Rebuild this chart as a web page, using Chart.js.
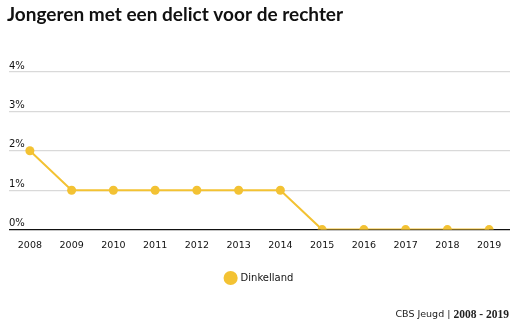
<!DOCTYPE html>
<html>
<head>
<meta charset="utf-8">
<script src="https://cdn.jsdelivr.net/npm/chart.js@4"></script>
<style>
  html, body { margin: 0; padding: 0; background: #fff; }
  #wrap { width: 517px; height: 329px; }
</style>
</head>
<body>
<div id="wrap"><canvas id="chart" width="517" height="329"></canvas></div>
<script>
'use strict';

var years = ['2008', '2009', '2010', '2011', '2012', '2013', '2014', '2015', '2016', '2017', '2018', '2019'];
var dinkelland = [2, 1, 1, 1, 1, 1, 1, 0, 0, 0, 0, 0];
var seriesName = 'Dinkelland';
var yTicks = [0, 1, 2, 3, 4];

var yellow = '#F3C233';

// title drawn by hand so it can sit left of the plot padding
var headerPlugin = {
  id: 'header',
  afterDraw: function (chart) {
    var ctx = chart.ctx;
    ctx.save();
    ctx.textBaseline = 'middle';
    ctx.textAlign = 'left';
    ctx.fillStyle = '#111';
    ctx.font = 'bold 19px Lato';
    ctx.fillText('Jongeren met een delict voor de rechter', 7, 15);
    ctx.restore();
  }
};

// footer line: source on the left, period in bold
var footerPlugin = {
  id: 'footer',
  afterDraw: function (chart) {
    var ctx = chart.ctx;
    var right = chart.width - 8;
    var y = chart.height - 14;
    ctx.save();
    ctx.textBaseline = 'middle';
    ctx.fillStyle = '#222';
    ctx.font = 'bold 11.5px "Liberation Serif"';
    var bold = '2008 - 2019';
    var wBold = ctx.measureText(bold).width;
    ctx.textAlign = 'right';
    ctx.fillText(bold, right, y);
    ctx.font = '9.5px "DejaVu Sans"';
    ctx.fillText('CBS Jeugd | ', right - wBold, y);
    ctx.restore();
  }
};

var ctx = document.getElementById('chart').getContext('2d');
new Chart(ctx, {
  type: 'line',
  data: {
    labels: years,
    datasets: [{
      label: seriesName,
      data: dinkelland,
      borderColor: yellow,
      backgroundColor: yellow,
      borderWidth: 2,
      pointRadius: 4.5,
      pointHoverRadius: 5,
      pointBorderWidth: 0,
      tension: 0
    }]
  },
  options: {
    responsive: false,
    animation: false,
    layout: { padding: { left: 9, right: 7, top: 72, bottom: 36 } },
    plugins: {
      title: { display: false },
      legend: {
        position: 'bottom',
        labels: {
          usePointStyle: true,
          pointStyle: 'circle',
          boxWidth: 12,
          boxHeight: 12,
          color: '#111',
          font: { family: 'DejaVu Sans', size: 10 },
          padding: 12
        }
      },
      tooltip: { enabled: false }
    },
    scales: {
      x: {
        offset: true,
        grid: { display: false, drawTicks: false },
        border: { display: false },
        ticks: {
          color: '#111',
          font: { family: 'DejaVu Sans', size: 9.5 },
          padding: 10,
          maxRotation: 0
        }
      },
      y: {
        min: 0,
        max: 4,
        afterBuildTicks: function (scale) {
          scale.ticks = yTicks.map(function (v) { return { value: v }; });
        },
        grid: {
          drawTicks: false,
          color: function (c) { return c.tick.value === 0 ? '#111' : '#d9d9d9'; },
          lineWidth: 1.2
        },
        border: { display: false },
        ticks: {
          mirror: true,
          padding: 0,
          labelOffset: -6,
          color: '#111',
          font: { family: 'DejaVu Sans', size: 10 },
          callback: function (v) { return v + '%'; }
        }
      }
    }
  },
  plugins: [headerPlugin, footerPlugin]
});
</script>
</body>
</html>
